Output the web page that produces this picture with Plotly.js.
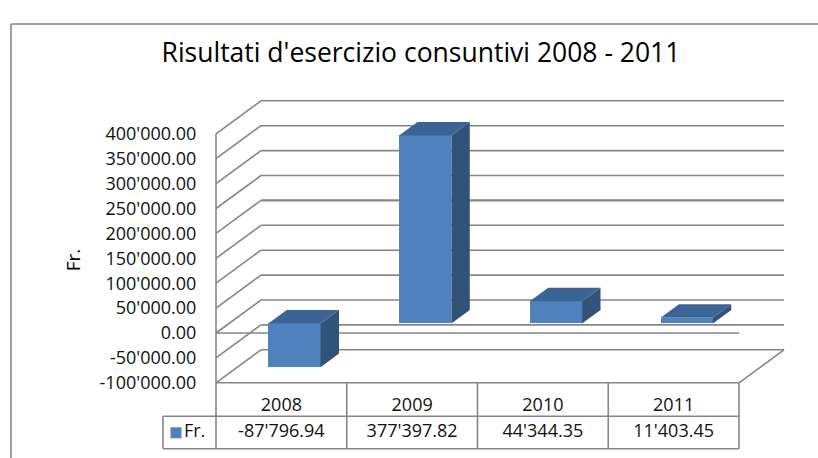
<!DOCTYPE html>
<html><head><meta charset="utf-8">
<script src="https://cdn.plot.ly/plotly-3.0.1.min.js"></script>
<style>html,body{margin:0;padding:0;background:#fff}</style></head>
<body><div id="chart" style="width:818px;height:458px"></div>
<script>
const chartTitle = "Risultati d'esercizio consuntivi 2008 - 2011";
const seriesName = "Fr.";
const years = ["2008","2009","2010","2011"];
const values = [-87796.94, 377397.82, 44344.35, 11403.45];
const valueLabels = ["-87'796.94","377'397.82","44'344.35","11'403.45"];
const tickVals = [-100000,-50000,0,50000,100000,150000,200000,250000,300000,350000,400000];
const tickText = ["-100'000.00","-50'000.00","0.00","50'000.00","100'000.00","150'000.00","200'000.00","250'000.00","300'000.00","350'000.00","400'000.00"];

// projection of the pseudo-3D box, in data units
const pxX = 130.75, pxY = 24.9/50000;
const depthX = 45/pxX, depthY = 33/pxY;
const barWidth = 0.4, nearD = 0.29, farD = 0.7;
const yMin = tickVals[0];
const yearRow = yMin - 33.5/pxY, bottomRow = yMin - 66/pxY, dataMid = yMin - 50/pxY, legendLeft = -53/pxX;
const n = years.length;
// plot box in pixels
const L=150,R=800,T=65,B=455,x0=216,y0=333;
const xr=[(L-x0)/pxX,(R-x0)/pxX], yr=[(y0-B)/pxY,(y0-T)/pxY];

const lineCol = '#868686';
const traces = [];
function line(xs,ys,w,col){traces.push({type:'scatter',mode:'lines',x:xs,y:ys,line:{color:col||lineCol,width:w||1.6},hoverinfo:'skip',showlegend:false,zorder:0,cliponaxis:false});}
// walls: diagonal + back gridlines
tickVals.forEach((v)=>{
  line([0,depthX],[v,v+depthY]);
  line([depthX,n+depthX],[v+depthY,v+depthY],v===200000?2.2:1.6);
});
line([0,0],[yMin,tickVals[tickVals.length-1]]);       // left front edge
line([0,n],[0,0]);                                    // zero line
line([n,n+depthX],[yMin,yMin+depthY]);                // floor edge
// table grid
line([0,n],[yMin,yMin]);
line([legendLeft,n],[yearRow,yearRow]);
line([legendLeft,n],[bottomRow,bottomRow]);
for(let i=0;i<=n;i++) line([i,i],[yMin,bottomRow]);
line([legendLeft,legendLeft],[yearRow,bottomRow]);

// bars: front faces
traces.push({type:'bar',name:seriesName,x:years.map((_,i)=>i+0.5+nearD*depthX),y:values,base:values.map(()=>nearD*depthY),width:barWidth,
  marker:{color:'#4F81BD',line:{width:0}},showlegend:false,zorder:1});
// top + side faces
values.forEach((v,i)=>{
  const xl=i+0.5-barWidth/2, xh=xl+barWidth;
  const dx1=nearD*depthX, dy1=nearD*depthY, dx2=farD*depthX, dy2=farD*depthY;
  const top=Math.max(v,0), bot=Math.min(v,0);
  traces.push({type:'scatter',mode:'lines',fill:'toself',fillcolor:'#3B6494',line:{width:0,color:'#3B6494'},hoverinfo:'skip',showlegend:false,zorder:2,
    x:[xl+dx1,xh+dx1,xh+dx2,xl+dx2,xl+dx1],y:[top+dy1,top+dy1,top+dy2,top+dy2,top+dy1]});
  traces.push({type:'scatter',mode:'lines',fill:'toself',fillcolor:'#325378',line:{width:0,color:'#325378'},hoverinfo:'skip',showlegend:false,zorder:2,
    x:[xh+dx1,xh+dx2,xh+dx2,xh+dx1,xh+dx1],y:[top+dy1,top+dy2,bot+dy2,bot+dy1,top+dy1]});
});
// data row of the table
traces.push({type:'scatter',mode:'text',x:years.map((_,i)=>i+0.5),y:years.map(()=>dataMid),text:valueLabels,textposition:'middle center',
  textfont:{family:'Open Sans',size:18,color:'#111'},hoverinfo:'skip',showlegend:false,zorder:3,cliponaxis:false});
// legend key cell
traces.push({type:'scatter',mode:'markers+text',x:[-40/pxX],y:[dataMid],text:[seriesName],textposition:'middle right',
  marker:{symbol:'square',size:11,color:'#4F81BD'},textfont:{family:'Open Sans',size:18,color:'#111'},hoverinfo:'skip',showlegend:false,zorder:3,cliponaxis:false});

const layout = {
  width:818,height:458,paper_bgcolor:'#fff',plot_bgcolor:'rgba(0,0,0,0)',showlegend:false,
  margin:{l:L,r:818-R,t:T,b:458-B,pad:0},
  title:{text:chartTitle,x:421/818,xanchor:'center',y:1-53/458,yanchor:'middle',font:{family:'Open Sans',size:26.5,weight:500,color:'#000'}},
  xaxis:{range:xr,anchor:'free',position:(B-383)/(B-T),tickmode:'array',tickvals:years.map((_,i)=>i+0.5),ticktext:years,
    showgrid:false,zeroline:false,showline:false,ticks:'outside',ticklen:5,tickcolor:'rgba(0,0,0,0)',
    tickfont:{family:'Open Sans',size:18,color:'#111'},fixedrange:true},
  yaxis:{range:yr,anchor:'free',position:(x0-L)/(R-L),tickmode:'array',tickvals:tickVals,ticktext:tickText,
    showgrid:false,zeroline:false,showline:false,ticks:'outside',ticklen:16,tickcolor:'rgba(0,0,0,0)',
    tickfont:{family:'Open Sans',size:18,color:'#111'},fixedrange:true,
    title:{text:seriesName,standoff:12,font:{family:'Open Sans',size:19,weight:500,color:'#000'}}},
  shapes:[
    {type:'line',xref:'paper',yref:'paper',x0:(11-L)/(R-L),x1:(818-L)/(R-L),y0:(B-24)/(B-T),y1:(B-24)/(B-T),line:{color:lineCol,width:1.6}},
    {type:'line',xref:'paper',yref:'paper',x0:(11-L)/(R-L),x1:(11-L)/(R-L),y0:(B-24)/(B-T),y1:(B-458)/(B-T),line:{color:lineCol,width:1.6}}
  ],
  bargap:0
};
Plotly.newPlot('chart',traces,layout,{displayModeBar:false,staticPlot:true});
</script></body></html>
